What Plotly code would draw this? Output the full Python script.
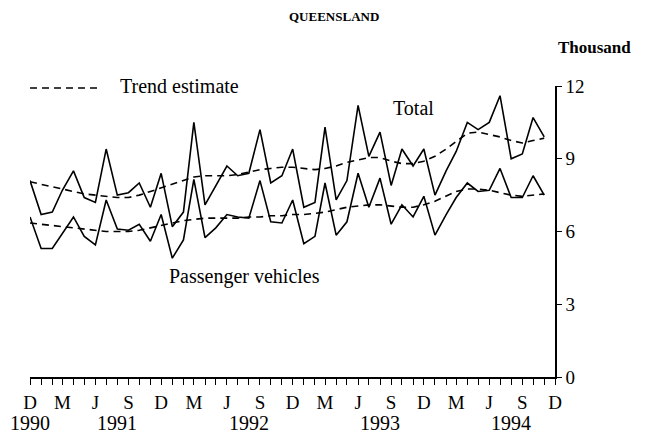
import pandas as pd
import plotly.graph_objects as go

# Monthly data, Dec 1990 - Nov 1994 (thousand)
months = pd.date_range("1990-12-01", periods=48, freq="MS")

total = [8.1, 6.7, 6.8, 7.7, 8.5, 7.4, 7.2, 9.4, 7.5, 7.6, 8.0, 7.0,
         8.4, 6.2, 6.8, 10.5, 7.1, 7.9, 8.7, 8.3, 8.4, 10.2, 8.0, 8.3,
         9.4, 7.0, 7.2, 10.3, 7.3, 8.1, 11.2, 9.1, 10.1, 7.9, 9.4, 8.7,
         9.4, 7.5, 8.5, 9.3, 10.5, 10.2, 10.5, 11.6, 9.0, 9.2, 10.7, 9.9]

passenger = [6.6, 5.3, 5.3, 5.9, 6.6, 5.8, 5.45, 7.3, 6.1, 6.05, 6.3, 5.6,
             6.7, 4.9, 5.65, 8.15, 5.75, 6.15, 6.7, 6.6, 6.55, 8.1, 6.4, 6.35,
             7.3, 5.5, 5.8, 8.0, 5.85, 6.4, 8.4, 7.0, 8.2, 6.3, 7.1, 6.6,
             7.45, 5.85, 6.7, 7.4, 8.0, 7.65, 7.7, 8.6, 7.4, 7.4, 8.3, 7.5]

total_trend = [8.05, 7.95, 7.85, 7.75, 7.65, 7.55, 7.5, 7.45, 7.4, 7.4, 7.5, 7.65,
               7.8, 7.95, 8.1, 8.25, 8.3, 8.3, 8.3, 8.35, 8.45, 8.55, 8.6, 8.65,
               8.65, 8.6, 8.55, 8.6, 8.7, 8.85, 8.95, 9.05, 9.05, 8.9, 8.8, 8.8,
               8.9, 9.1, 9.4, 9.7, 10.05, 10.1, 10.0, 9.9, 9.75, 9.65, 9.75, 9.85]

passenger_trend = [6.35, 6.3, 6.25, 6.2, 6.15, 6.1, 6.05, 6.0, 6.0, 6.0, 6.05, 6.15,
                   6.25, 6.35, 6.45, 6.5, 6.55, 6.55, 6.55, 6.55, 6.6, 6.6, 6.65, 6.65,
                   6.7, 6.7, 6.75, 6.8, 6.9, 7.0, 7.05, 7.1, 7.1, 7.05, 7.0, 7.0,
                   7.1, 7.25, 7.45, 7.65, 7.75, 7.75, 7.7, 7.6, 7.5, 7.45, 7.5, 7.55]

tick_months = pd.date_range("1990-12-01", "1994-12-01", freq="MS")
month_letter = {12: "D", 3: "M", 6: "J", 9: "S"}
tick_text = [month_letter.get(d.month, "") for d in tick_months]

year_labels = ["1990", "1991", "1992", "1993", "1994"]
year_pos = ["1990-12-01", "1991-08-01", "1992-08-01", "1993-08-01", "1994-08-01"]

y_ticks = [0, 3, 6, 9, 12]

FONT = "Liberation Serif, Times New Roman, serif"
LW = 1.6
DASH = "7px,5px"

# page body has an 8px margin: figure drawn 8px right/down
OFF = 8
PX0, PX1, PY0, PY1 = 30, 555, 86, 377  # plot area in page pixels
PW, PH = PX1 - PX0, PY1 - PY0


def px(x):
    return (x - PX0) / PW


def py(y):
    return (PY1 - y) / PH


fig = go.Figure()
fig.add_trace(go.Scatter(x=months, y=total, mode="lines",
                         line=dict(color="black", width=LW)))
fig.add_trace(go.Scatter(x=months, y=passenger, mode="lines",
                         line=dict(color="black", width=LW)))
fig.add_trace(go.Scatter(x=months, y=total_trend, mode="lines",
                         line=dict(color="black", width=LW, dash=DASH)))
fig.add_trace(go.Scatter(x=months, y=passenger_trend, mode="lines",
                         line=dict(color="black", width=LW, dash=DASH)))

annotations = []
for lab, pos in zip(year_labels, year_pos):
    annotations.append(dict(x=pos, xref="x", y=py(423), yref="paper",
                            text=lab, showarrow=False, xanchor="center",
                            yanchor="middle", font=dict(family=FONT, size=20, color="black")))

annotations += [
    dict(x=px(334), xref="paper", y=py(17), yref="paper", text="<b>QUEENSLAND</b>",
         showarrow=False, xanchor="center", yanchor="middle",
         font=dict(family=FONT, size=13, color="black")),
    dict(x=px(594), xref="paper", y=py(47), yref="paper", text="<b>Thousand</b>",
         showarrow=False, xanchor="center", yanchor="middle",
         font=dict(family=FONT, size=17, color="black")),
    dict(x=px(118), xref="paper", y=py(86), yref="paper",
         text="Trend estimate", showarrow=False, xanchor="left", yanchor="middle",
         font=dict(family=FONT, size=20, color="black")),
    dict(x=px(413), xref="paper", y=py(108), yref="paper",
         text="Total", showarrow=False, xanchor="center", yanchor="middle",
         font=dict(family=FONT, size=20, color="black")),
    dict(x=px(244), xref="paper", y=py(276), yref="paper",
         text="Passenger vehicles", showarrow=False, xanchor="center", yanchor="middle",
         font=dict(family=FONT, size=20, color="black")),
]

shapes = [dict(type="line", xref="paper", yref="paper",
               x0=px(30), x1=px(100), y0=py(88), y1=py(88),
               line=dict(color="black", width=LW, dash=DASH))]

W, H = 667 - OFF, 437 - OFF
fig.update_layout(
    width=W, height=H,
    margin=dict(l=PX0 - OFF, r=667 - PX1, t=PY0 - OFF, b=437 - PY1),
    paper_bgcolor="white", plot_bgcolor="white",
    showlegend=False,
    font=dict(family=FONT, color="black"),
    annotations=annotations,
    shapes=shapes,
    xaxis=dict(
        type="date",
        range=["1990-12-01", "1994-12-01"],
        tickmode="array", tickvals=tick_months, ticktext=tick_text,
        ticks="outside", ticklen=6, tickwidth=1.3, tickcolor="black",
        showline=True, linecolor="black", linewidth=LW,
        showgrid=False, zeroline=False,
        tickfont=dict(family=FONT, size=19, color="black"),
        ticklabelstandoff=1,
    ),
    yaxis=dict(
        side="right",
        range=[0, 12],
        tickmode="array", tickvals=y_ticks,
        ticks="outside", ticklen=5, tickwidth=1.3, tickcolor="black",
        showline=True, linecolor="black", linewidth=LW,
        showgrid=False, zeroline=False,
        tickfont=dict(family=FONT, size=19, color="black"),
    ),
)

fig.write_html("out.html")
